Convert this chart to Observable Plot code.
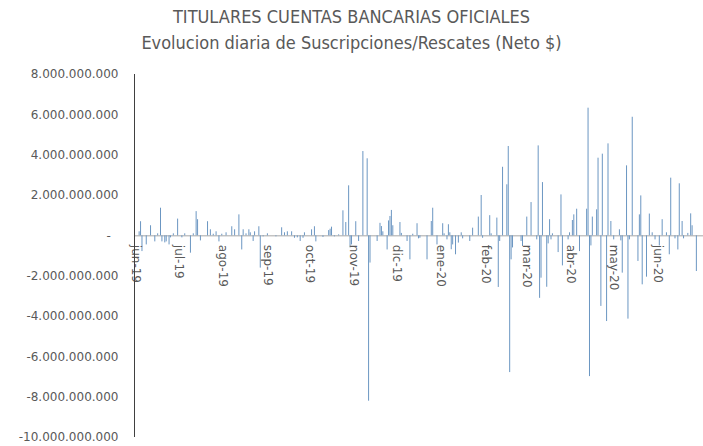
<!DOCTYPE html>
<html>
<head>
<meta charset="utf-8">
<script src="https://cdn.jsdelivr.net/npm/d3@7"></script>
<script src="https://cdn.jsdelivr.net/npm/@observablehq/plot@0.6"></script>
<style>
  html, body { margin: 0; padding: 0; background: #fff; }
  body { width: 703px; height: 446px; overflow: hidden; position: relative; }
  #title { position: relative; height: 60px; color: #595959; text-align: center;
           font-family: "Liberation Sans Narrow", "DejaVu Sans Condensed", sans-serif; }
  #t1 { position: absolute; left: 0; right: 0; top: 6px; font-size: 18px; line-height: 22px; }
  #t2 { position: absolute; left: 0; right: 0; top: 32px; font-size: 18px; line-height: 22px; }
  #chart svg { display: block; }
</style>
</head>
<body>
<div id="title">
  <div id="t1">TITULARES CUENTAS BANCARIAS OFICIALES</div>
  <div id="t2">Evolucion diaria de Suscripciones/Rescates (Neto $)</div>
</div>
<div id="chart"></div>
<script>
// Daily dates
const fechas = [
  "2019-06-03","2019-06-04","2019-06-05","2019-06-08","2019-06-11","2019-06-14","2019-06-16","2019-06-18","2019-06-19","2019-06-21",
  "2019-06-22","2019-06-24","2019-06-25","2019-06-27","2019-06-30","2019-07-03","2019-07-05","2019-07-09","2019-07-11","2019-07-13",
  "2019-07-14","2019-07-16","2019-07-21","2019-07-23","2019-07-25","2019-07-27","2019-07-29","2019-07-31","2019-08-03","2019-08-07",
  "2019-08-09","2019-08-12","2019-08-14","2019-08-15","2019-08-17","2019-08-19","2019-08-20","2019-08-22","2019-08-23","2019-08-26",
  "2019-08-27","2019-08-29","2019-09-01","2019-09-07","2019-09-11","2019-09-13","2019-09-15","2019-09-18","2019-09-20","2019-09-22",
  "2019-09-24","2019-09-26","2019-09-27","2019-10-02","2019-10-04","2019-10-05","2019-10-10","2019-10-14","2019-10-15","2019-10-16",
  "2019-10-18","2019-10-21","2019-10-24","2019-10-26","2019-10-28","2019-10-29","2019-10-30","2019-11-02","2019-11-04","2019-11-07",
  "2019-11-10","2019-11-11","2019-11-12","2019-11-17","2019-11-19","2019-11-20","2019-11-21","2019-11-24","2019-11-25","2019-11-26",
  "2019-11-27","2019-11-28","2019-12-03","2019-12-04","2019-12-08","2019-12-10","2019-12-12","2019-12-15","2019-12-16","2019-12-17",
  "2019-12-22","2019-12-25","2019-12-26","2019-12-29","2020-01-02","2020-01-03","2020-01-05","2020-01-06","2020-01-07","2020-01-08",
  "2020-01-09","2020-01-11","2020-01-13","2020-01-15","2020-01-16","2020-01-21","2020-01-23","2020-01-27","2020-01-29","2020-01-30",
  "2020-02-04","2020-02-05","2020-02-09","2020-02-10","2020-02-11","2020-02-13","2020-02-16","2020-02-17","2020-02-18","2020-02-19",
  "2020-02-20","2020-02-26","2020-02-27","2020-03-01","2020-03-04","2020-03-08","2020-03-09","2020-03-10","2020-03-11","2020-03-12",
  "2020-03-15","2020-03-16","2020-03-17","2020-03-18","2020-03-19","2020-03-23","2020-03-25","2020-03-26","2020-03-30","2020-03-31",
  "2020-04-02","2020-04-03","2020-04-05","2020-04-07","2020-04-12","2020-04-13","2020-04-14","2020-04-15","2020-04-16","2020-04-19",
  "2020-04-20","2020-04-22","2020-04-23","2020-04-26","2020-04-27","2020-04-29","2020-05-01","2020-05-05","2020-05-06","2020-05-07",
  "2020-05-10","2020-05-11","2020-05-12","2020-05-14","2020-05-18","2020-05-19","2020-05-20","2020-05-21","2020-05-24","2020-05-26",
  "2020-05-28","2020-05-30","2020-06-02","2020-06-04","2020-06-07","2020-06-09","2020-06-10","2020-06-13","2020-06-15","2020-06-16",
  "2020-06-18","2020-06-19","2020-06-22","2020-06-24","2020-06-25","2020-06-28"
];
// Net subscriptions/redemptions, in thousands of millions of $
const netoMilMillones = [
  0.20, 0.70, -0.78, -0.45, 0.50, -0.30, 0.10, 1.37, -0.30, -0.35,
  -0.30, -0.45, -0.10, 0.10, 0.83, -0.10, 0.10, -0.86, 0.10, 1.20,
  0.80, -0.25, 0.70, 0.30, 0.08, 0.20, -0.30, 0.08, 0.15, 0.45,
  0.30, 1.04, -0.70, 0.30, 0.10, 0.30, 0.15, -0.28, 0.20, 0.45,
  -1.60, -0.05, 0.10, -0.05, 0.40, 0.15, 0.20, 0.20, -0.12, -0.10,
  -0.28, -0.12, 0.15, 0.30, 0.45, -0.30, -0.08, 0.26, 0.33, 0.43,
  -0.05, 0.05, 1.24, 0.66, 2.48, -0.60, -0.45, 0.70, -0.28, 4.18,
  3.82, -8.20, -1.35, -0.28, 0.62, 0.46, 0.20, -0.70, 0.74, 0.96,
  1.26, 0.50, 0.66, 0.12, -0.28, -1.19, 0.08, 0.60, -0.15, -0.12,
  -1.19, 0.71, 1.37, -0.45, 0.60, 0.10, -0.20, 0.55, 0.15, -0.69,
  -0.45, -0.94, -0.36, 0.15, -0.15, -0.28, 0.38, 0.93, 2.00, -0.12,
  1.00, 0.10, 0.88, -2.56, -0.28, 3.40, 2.53, 4.43, -6.78, -1.19,
  -0.60, -0.28, -0.53, 0.93, 1.65, -0.20, 4.46, -3.10, -2.10, 2.64,
  -2.55, -0.40, 0.80, -0.20, 0.10, -0.83, 2.03, -1.49, -0.20, 0.15,
  0.76, 1.04, 1.32, -0.78, 1.32, 6.33, -6.98, -0.50, 0.93, 1.29,
  3.85, -3.50, 4.05, -4.25, 4.56, 0.71, -0.20, 0.30, -0.25, -1.85,
  3.47, -4.13, -0.20, 5.88, -1.27, 1.04, 1.98, -2.43, -2.05, 1.08,
  0.15, -0.20, -0.50, 0.80, 0.15, -0.94, 2.86, -0.15, -0.70, 2.58,
  0.71, -0.15, 0.12, 1.09, 0.50, -1.77
];
// Month tick labels
const mesesFechas = ["2019-06-01","2019-07-01","2019-08-01","2019-09-01","2019-10-01","2019-11-01","2019-12-01",
                     "2020-01-01","2020-02-01","2020-03-01","2020-04-01","2020-05-01","2020-06-01"];
const mesesEtiquetas = ["jun-19","jul-19","ago-19","sep-19","oct-19","nov-19","dic-19",
                        "ene-20","feb-20","mar-20","abr-20","may-20","jun-20"];
// Y tick values and labels
const yTicks = [8e9, 6e9, 4e9, 2e9, 0, -2e9, -4e9, -6e9, -8e9, -10e9];
const yEtiquetas = ["8.000.000.000","6.000.000.000","4.000.000.000","2.000.000.000","-\u00a0\u00a0",
                    "-2.000.000.000","-4.000.000.000","-6.000.000.000","-8.000.000.000","-10.000.000.000"];

const datos = fechas.map((f, i) => ({fecha: new Date(f + "T00:00:00Z"), neto: netoMilMillones[i] * 1e9}));
const meses = mesesFechas.map((f, i) => ({fecha: new Date(f + "T00:00:00Z"), etiqueta: mesesEtiquetas[i]}));
const yLabelOf = new Map(yTicks.map((v, i) => [v, yEtiquetas[i]]));
const xDomain = [new Date(Date.UTC(2019, 4, 30, 18)), new Date(Date.UTC(2020, 6, 3))];

const chart = Plot.plot({
  width: 703,
  height: 386,
  marginLeft: 134,
  marginRight: 0,
  marginTop: 14,
  marginBottom: 9,
  style: {fontFamily: "'DejaVu Sans', sans-serif", background: "#fff"},
  x: {type: "utc", domain: xDomain, axis: null},
  y: {domain: [-10e9, 8e9], axis: null},
  marks: [
    Plot.axisY(yTicks, {
      anchor: "left",
      label: null,
      tickSize: 0,
      tickPadding: 16,
      tickFormat: (d) => yLabelOf.get(d),
      fontSize: 12,
      fill: "#595959"
    }),
    Plot.ruleY([0], {stroke: "#a6a6a6", strokeWidth: 1}),
    Plot.ruleX(datos, {x: "fecha", y1: 0, y2: "neto", stroke: "#6b96c2", strokeWidth: 1}),
    Plot.text(meses, {
      x: "fecha", y: 0, text: "etiqueta", rotate: 90, textAnchor: "start",
      dy: 9, fontSize: 12, fill: "#595959"
    }),
    Plot.ruleX([xDomain[0]], {stroke: "#404040", strokeWidth: 1})
  ]
});
document.getElementById("chart").appendChild(chart);
</script>
</body>
</html>
